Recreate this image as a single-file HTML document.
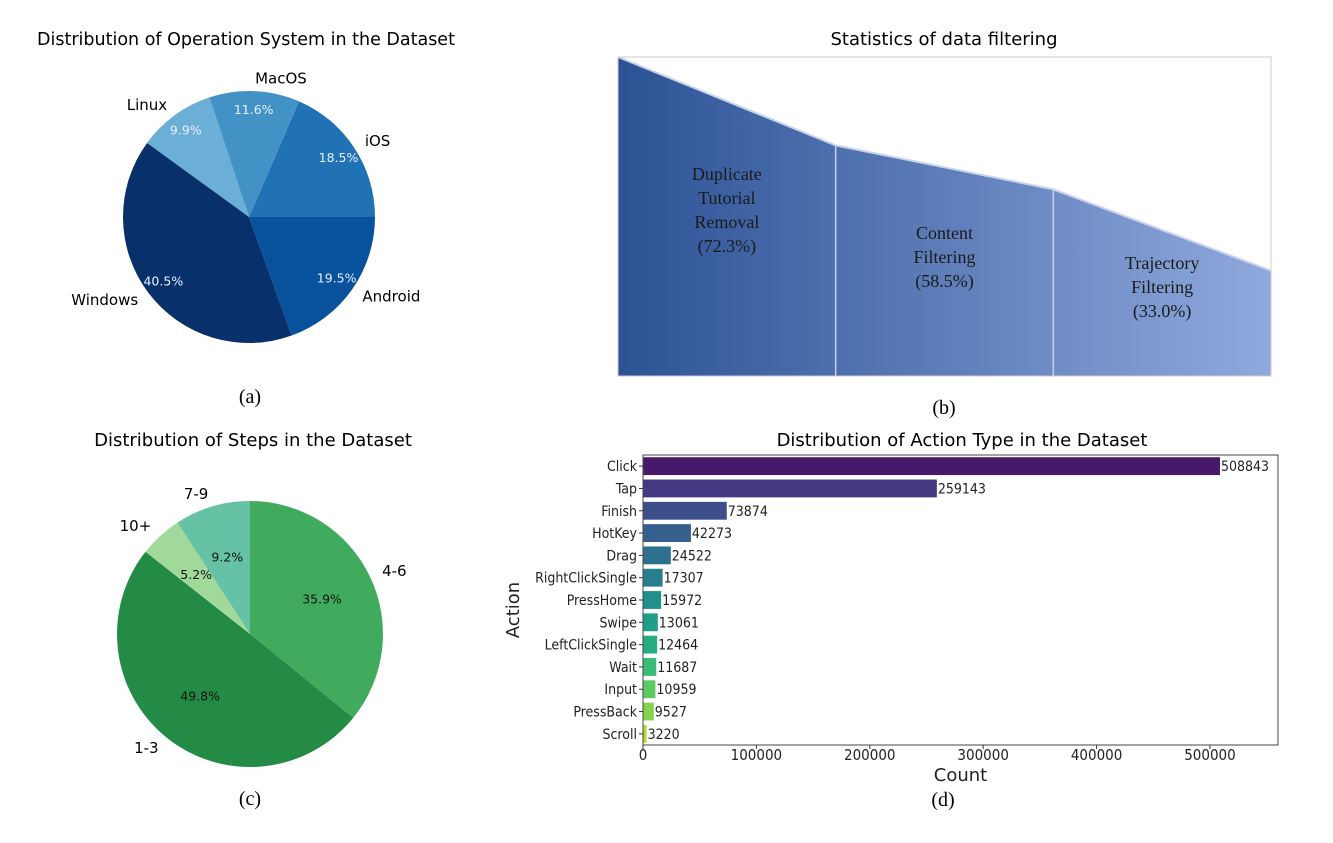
<!DOCTYPE html>
<html><head><meta charset="utf-8"><style>
body{margin:0;background:#fff;width:1333px;height:843px;overflow:hidden}
svg{display:block}
.sans{font-family:"DejaVu Sans","Liberation Sans",sans-serif}
.cond{font-family:"DejaVu Sans Condensed","DejaVu Sans","Liberation Sans Narrow",sans-serif;font-stretch:condensed}
.serif{font-family:"Liberation Serif",serif}
</style></head><body>
<svg id="s" width="1333" height="843" xmlns="http://www.w3.org/2000/svg">
<defs>
<linearGradient id="g" x1="0" x2="1" y1="0" y2="0"><stop offset="0" stop-color="#2c5295"/><stop offset="1" stop-color="#90a9dd"/></linearGradient>
</defs>
<text x="246" y="45" text-anchor="middle" class="sans" font-size="17.5">Distribution of Operation System in the Dataset</text>
<text x="250" y="403" text-anchor="middle" class="serif" font-size="20">(a)</text>
<text x="944" y="45" text-anchor="middle" class="sans" font-size="18">Statistics of data filtering</text>
<text x="944" y="414" text-anchor="middle" class="serif" font-size="20">(b)</text>
<text x="253" y="446" text-anchor="middle" class="sans" font-size="18">Distribution of Steps in the Dataset</text>
<text x="250" y="805" text-anchor="middle" class="serif" font-size="20">(c)</text>
<text x="962" y="446" text-anchor="middle" class="sans" font-size="18">Distribution of Action Type in the Dataset</text>
<text x="943" y="806" text-anchor="middle" class="serif" font-size="20">(d)</text>
<g id="b"></g>
<g id="pa"></g><g id="pc"></g><g id="bar"></g>
</svg>
<script>
const NS="http://www.w3.org/2000/svg";
function mk(p,t,a,txt){const e=document.createElementNS(NS,t);for(const k in a)e.setAttribute(k,a[k]);if(txt!=null)e.textContent=txt;p.appendChild(e);return e;}

// Pie (a)
const osLabels=["iOS","MacOS","Linux","Windows","Android"];
const osValues=[18.5,11.6,9.9,40.5,19.5];
const osColors=["#2171b5","#4292c6","#6baed6","#08306b","#08519c"];
// Pie (c)
const stepLabels=["4-6","1-3","10+","7-9"];
const stepValues=[35.9,49.8,5.2,9.2];
const stepColors=["#41ab5d","#238b45","#a1d99b","#66c2a4"];
// Filtering (b)
const stageLabels=[["Duplicate","Tutorial","Removal","(72.3%)"],["Content","Filtering","(58.5%)"],["Trajectory","Filtering","(33.0%)"]];
const stageValues=[100,72.3,58.5,33.0];
// Bars (d)
const actions=["Click","Tap","Finish","HotKey","Drag","RightClickSingle","PressHome","Swipe","LeftClickSingle","Wait","Input","PressBack","Scroll"];
const counts=[508843,259143,73874,42273,24522,17307,15972,13061,12464,11687,10959,9527,3220];
const xTicks=[0,100000,200000,300000,400000,500000];

function pie(g,cx,cy,r,vals,labels,cols,start,dir,pctCol,name,pd,ld,fs,pfs){
  const tot=vals.reduce((a,b)=>a+b,0);let a=start;
  vals.forEach((v,i)=>{
    const da=v/tot*360*dir, a2=a+da;
    const rad=x=>x*Math.PI/180;
    const x1=cx+r*Math.cos(rad(a)),y1=cy-r*Math.sin(rad(a)),x2=cx+r*Math.cos(rad(a2)),y2=cy-r*Math.sin(rad(a2));
    const large=Math.abs(da)>180?1:0, sw=dir>0?0:1;
    const p=mk(g,"path",{d:`M${cx},${cy}L${x1},${y1}A${r},${r} 0 ${large} ${sw} ${x2},${y2}Z`,fill:cols[i]});
    
    
    const m=rad(a+da/2);
    const t=mk(g,"text",{x:cx+r*pd*Math.cos(m),y:cy-r*pd*Math.sin(m)+4,"text-anchor":"middle","font-size":pfs,fill:pctCol,class:"sans"},v.toFixed(1)+"%");
    
    
    const lx=cx+r*ld*Math.cos(m),ly=cy-r*ld*Math.sin(m)+5;
    const l=mk(g,"text",{x:lx,y:ly,"text-anchor":Math.cos(m)>0?"start":"end","font-size":fs,class:"sans"},labels[i]);
    
    
    a=a2;
  });
}
pie(document.getElementById("pa"),249,217,126,osValues,osLabels,osColors,0,1,"#e8f0ff","os",0.85,1.1,15,12.5);
pie(document.getElementById("pc"),250,634,133,stepValues,stepLabels,stepColors,90,-1,"#111","steps",0.6,1.1,15,12.5);

// (b)
(function(){
  const g=document.getElementById("b");
  const x0=618,x1=1271,yb=376,yt=57;
  const n=stageValues.length-1, w=(x1-x0)/n;
  const ys=v=>yb-(v/100)*(yb-yt);
  let d=`M${x0},${yb}`;stageValues.forEach((v,i)=>{d+=`L${x0+i*w},${ys(v)}`;});d+=`L${x1},${yb}Z`;
  const p=mk(g,"path",{d:d,fill:"url(#g)"});
  
  
  mk(g,"polyline",{points:stageValues.map((v,i)=>`${x0+i*w},${ys(v)}`).join(" "),fill:"none",stroke:"#c8d2ec","stroke-width":2});
  for(let i=1;i<n;i++){const l=mk(g,"line",{x1:x0+i*w,x2:x0+i*w,y1:ys(stageValues[i]),y2:yb,stroke:"#c5d0ee","stroke-width":1.5});
    
    }
  const fr=mk(g,"rect",{x:x0,y:yt,width:x1-x0,height:yb-yt,fill:"none",stroke:"#ccc","stroke-width":1});
  
  
  const cys=[210,257,287];
  stageLabels.forEach((ls,i)=>{
    const cx=x0+(i+0.5)*w;
    ls.forEach((s,j)=>{
      const t=mk(g,"text",{x:cx,y:cys[i]-(ls.length-1)*12+j*24+6,"text-anchor":"middle","font-size":18,fill:"#1a1a1a",class:"serif"},s);
      
      
    });
  });
})();

// (d)
(function(){
  const g=document.getElementById("bar");
  const L=643,R=1278,T=455,B=745,xmax=560000;
  const X=v=>L+v/xmax*(R-L);
  const step=(B-T)/actions.length, bh=step*0.8;
  const pal=["#48186a","#453882","#3d4f8a","#355f8d","#2d718e","#277f8e","#21908d","#1f9e89","#26ad81","#3bbb75","#5ec962","#84d44b","#b5de2b"];
  actions.forEach((a,i)=>{
    const yc=T+step*(i+0.5);
    const r=mk(g,"rect",{x:L,y:yc-bh/2,width:X(counts[i])-L,height:bh,fill:pal[i]});
    
    
    const v=mk(g,"text",{x:X(counts[i])+1,y:yc+5,"font-size":14,fill:"#222",class:"cond"},String(counts[i]));
    
    
    mk(g,"line",{x1:L-4,x2:L,y1:yc,y2:yc,stroke:"#333"});
    const l=mk(g,"text",{x:L-6,y:yc+5,"text-anchor":"end","font-size":14,fill:"#222",class:"cond"},a);
    
    
  });
  xTicks.forEach(t=>{
    mk(g,"line",{x1:X(t),x2:X(t),y1:B,y2:B+4,stroke:"#333"});
    const e=mk(g,"text",{x:X(t),y:B+15,"text-anchor":"middle","font-size":15,fill:"#222",class:"cond"},String(t));
    
    
  });
  const fr=mk(g,"rect",{x:L,y:T,width:R-L,height:B-T,fill:"none",stroke:"#444","stroke-width":1});
  
  
  const xt=mk(g,"text",{x:(L+R)/2,y:B+36,"text-anchor":"middle","font-size":18,fill:"#222",class:"sans"},"Count");
  
  
  const yt=mk(g,"text",{x:0,y:0,"text-anchor":"middle","font-size":18,fill:"#222",class:"sans",transform:`translate(519,${(T+B)/2+10}) rotate(-90)`},"Action");
  
  
})();
</script>
</body></html>
